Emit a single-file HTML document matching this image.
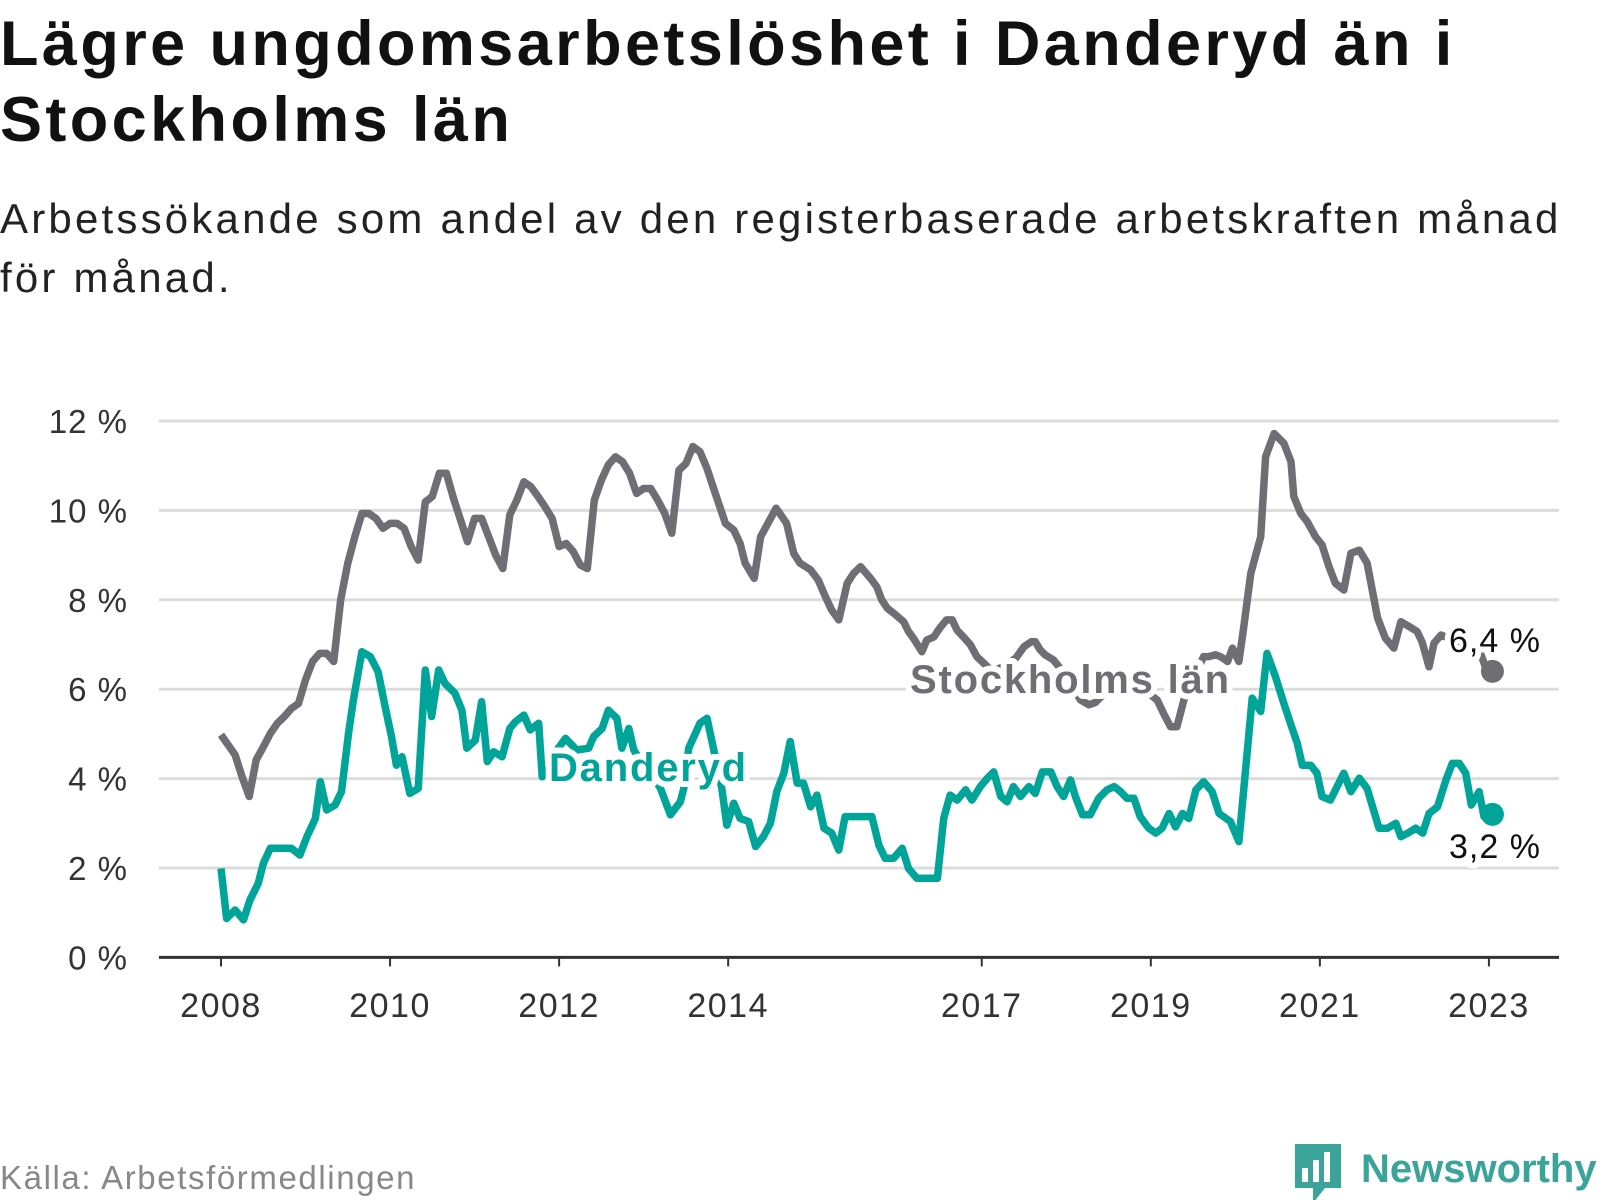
<!DOCTYPE html>
<html><head><meta charset="utf-8">
<style>
body{margin:0;background:#fff;width:1600px;height:1200px;overflow:hidden;font-family:"Liberation Sans",sans-serif;}
#title{position:absolute;left:0;top:6px;font-size:63px;font-weight:bold;line-height:76px;color:#111;margin:0;letter-spacing:3.4px;white-space:nowrap}
#subtitle{position:absolute;left:0;top:189px;font-size:42px;line-height:59px;color:#222;margin:0;letter-spacing:3.2px;white-space:nowrap}
svg{position:absolute;left:0;top:0}
</style></head><body>
<h1 id="title">Lägre ungdomsarbetslöshet i Danderyd än i<br>Stockholms län</h1>
<p id="subtitle">Arbetssökande som andel av den registerbaserade arbetskraften månad<br>för månad.</p>
<svg id="chart" width="1600" height="1200"></svg>
<script>
const yTicks=[0,2,4,6,8,10,12];
const xTickMonths=[0,24,48,72,108,132,156,180];
const xTickLabels=["2008","2010","2012","2014","2017","2019","2021","2023"];
const stoMonths=[0,2,3,4,5,6,7,8,9,10,11,12,13,14,15,16,17,18,19,20,21,22,23,24,25,26,27,28,29,30,31,32,33,34,35,36,37,38,39,40,41,42,43,44,45,46,47,48,49,50,51,52,53,54,55,56,57,58,59,60,61,62,63,64,65,66,67,68,69,70,71.6,72.8,73.7,74.4,75.7,76.6,77.5,78.8,80.3,81.3,82.2,83.7,84.8,85.8,86.7,87.7,88.9,89.8,90.8,92.2,93.1,93.8,94.6,95.5,96.9,97.6,98.3,99.5,100.2,101.2,102,103,103.8,104.5,105.4,106.4,107.3,108.5,109.5,111,112.8,114,115,115.6,116.3,117,118.2,120,122,123.2,124.1,126,128,130,132,132.9,133.8,134.8,135.7,136.7,139.5,140.2,141.2,141.9,142.9,143.6,144.5,145.2,146.2,147.6,148.3,149.5,150.9,151.9,152.3,153.3,154.2,155.4,156.3,157.3,158.2,159.4,160.4,161.6,162.7,164.2,165.3,166.5,167.5,168.7,169.8,170.5,171.5,172.2,173.2,175,177,178.8,179.5,180.5];
const stoValues=[4.98,4.53,4.04,3.60,4.42,4.71,5.01,5.24,5.39,5.57,5.68,6.21,6.62,6.80,6.80,6.62,8.0,8.82,9.41,9.93,9.93,9.82,9.60,9.71,9.71,9.60,9.19,8.89,10.19,10.31,10.83,10.83,10.27,9.79,9.30,9.82,9.82,9.41,9.0,8.70,9.90,10.23,10.64,10.53,10.31,10.08,9.82,9.19,9.26,9.08,8.78,8.70,10.23,10.68,11.02,11.20,11.09,10.83,10.38,10.49,10.49,10.23,9.93,9.49,10.90,11.05,11.43,11.31,10.94,10.46,9.71,9.56,9.26,8.82,8.48,9.41,9.67,10.05,9.71,9.04,8.82,8.67,8.44,8.07,7.77,7.55,8.37,8.59,8.74,8.48,8.29,8.0,7.81,7.70,7.51,7.29,7.14,6.84,7.10,7.17,7.36,7.55,7.55,7.32,7.17,6.99,6.73,6.55,6.4,6.5,6.69,6.95,7.06,7.06,6.88,6.77,6.65,6.3,5.76,5.65,5.7,6.0,6.2,6.1,5.87,5.76,5.46,5.16,5.16,5.76,6.73,6.73,6.77,6.73,6.62,6.92,6.62,7.40,8.59,9.41,11.2,11.72,11.50,11.09,10.31,9.93,9.75,9.41,9.23,8.74,8.37,8.22,9.04,9.11,8.82,7.59,7.14,6.92,7.51,7.40,7.29,7.06,6.50,7.03,7.21,7.1,7.0,6.8,6.5,6.4];
const danMonths=[0,0.8,2.0,3.2,4.1,5.3,6.0,7.0,10.0,11.2,12.2,13.4,14.1,15.0,16.2,17.1,18.1,18.8,20.0,21.2,22.3,23.3,24.2,24.9,25.7,26.8,28.0,29.0,29.9,30.9,31.8,33.2,34.2,34.9,36.1,37.0,37.8,38.7,39.9,41.0,41.8,43.0,43.9,45.1,45.6,46.5,47.5,48.9,50.5,52.2,52.9,54.1,55.0,56.2,56.9,57.9,58.6,60,61.5,62.4,63.8,65.2,65.7,66.4,68.0,69.0,69.9,71.1,71.8,72.8,73.7,74.9,75.9,77.0,78.0,78.9,79.9,80.8,81.8,82.7,83.7,84.6,85.6,86.7,87.7,88.6,92.4,93.4,94.3,95.5,96.7,97.6,98.8,101.7,102.6,103.5,104.5,105.7,106.6,107.8,108.8,109.7,110.7,111.6,112.5,113.5,114.7,115.6,116.6,117.8,118.7,119.6,120.6,121.3,122.3,123.4,124.6,125.8,126.8,127.7,128.6,129.6,130.5,131.7,132.7,133.6,134.6,135.5,136.5,137.4,138.4,139.5,140.7,141.7,143.3,144.5,146.4,147.6,148.5,149.7,150.9,151.9,152.8,153.5,154.7,155.6,156.3,157.5,159.4,160.4,161.6,162.7,164.4,165.6,166.8,167.5,168.5,169.6,170.6,171.5,172.7,173.9,174.8,175.8,176.7,177.5,178.6,179.3,180.5];
const danValues=[1.99,0.87,1.06,0.84,1.28,1.66,2.10,2.44,2.44,2.29,2.70,3.11,3.93,3.30,3.41,3.71,5.01,5.76,6.84,6.73,6.39,5.61,4.94,4.30,4.49,3.67,3.78,6.43,5.39,6.43,6.13,5.91,5.53,4.68,4.86,5.72,4.38,4.60,4.49,5.12,5.27,5.42,5.09,5.24,4.04,4.2,4.6,4.9,4.64,4.68,4.94,5.12,5.53,5.35,4.68,5.12,4.64,4.3,4.0,3.78,3.19,3.48,3.78,4.68,5.24,5.35,4.68,3.78,2.96,3.45,3.11,3.04,2.48,2.70,3.0,3.71,4.12,4.83,3.90,3.90,3.37,3.63,2.89,2.78,2.40,3.15,3.15,2.51,2.22,2.22,2.44,1.99,1.77,1.77,3.11,3.63,3.52,3.75,3.52,3.82,4.01,4.15,3.60,3.48,3.82,3.60,3.82,3.67,4.15,4.15,3.82,3.60,3.97,3.60,3.19,3.19,3.56,3.75,3.82,3.71,3.56,3.56,3.15,2.89,2.78,2.89,3.22,2.92,3.22,3.11,3.75,3.93,3.71,3.22,3.04,2.59,5.80,5.50,6.80,6.28,5.68,5.20,4.79,4.30,4.30,4.12,3.60,3.52,4.12,3.71,4.01,3.78,2.89,2.89,3.0,2.70,2.78,2.89,2.78,3.22,3.37,3.97,4.34,4.34,4.12,3.41,3.71,3.15,3.2];

const NS="http://www.w3.org/2000/svg";
const svg=document.getElementById('chart');
const X0=221,MW=7.044,Y0=957.4,YU=44.7;
const xS=m=>X0+m*MW, yS=v=>Y0-v*YU;
function el(t,a,p){const e=document.createElementNS(NS,t);for(const k in a)e.setAttribute(k,a[k]);(p||svg).appendChild(e);return e;}

yTicks.forEach(v=>{
  if(v>0){const g=el('line',{x1:159,x2:1559,y1:yS(v),y2:yS(v),stroke:'#dcdcdc','stroke-width':3});
  
  }
  const t=el('text',{x:128,y:yS(v)+12,'text-anchor':'end','font-size':33,'letter-spacing':1,fill:'#333','font-family':'Liberation Sans, sans-serif'});
  t.textContent=v+' %';
  
  
});
const ax=el('line',{x1:159,x2:1559,y1:Y0,y2:Y0,stroke:'#333','stroke-width':3});


xTickMonths.forEach((m,i)=>{
  const tk=el('line',{x1:xS(m),x2:xS(m),y1:Y0,y2:Y0+9,stroke:'#333','stroke-width':2});
  
  
  const t=el('text',{x:xS(m),y:1017,'text-anchor':'middle','font-size':34,'letter-spacing':1.5,fill:'#333','font-family':'Liberation Sans, sans-serif'});
  t.textContent=xTickLabels[i];
  
  
});
function line(ms,vs,color,name){
  const d=ms.map((m,i)=>(i?'L':'M')+xS(m).toFixed(1)+','+yS(vs[i]).toFixed(1)).join('');
  const p=el('path',{d:d,fill:'none',stroke:color,'stroke-width':7.5,'stroke-linejoin':'round'});
  
  
  const c=el('circle',{cx:xS(ms[ms.length-1]),cy:yS(vs[vs.length-1]),r:11.5,fill:color});
  
  
}
line(stoMonths,stoValues,'#6f6e74','stockholm-line');
line(danMonths,danValues,'#00a499','danderyd-line');
function label(txt,x,y,size,color,bold,ls,name){
  const t=el('text',{x:x,y:y,'font-size':size,'letter-spacing':ls,fill:color,'font-weight':bold?'bold':'normal',stroke:'#fff','stroke-width':12,'paint-order':'stroke','stroke-linejoin':'round','font-family':'Liberation Sans, sans-serif'});
  t.textContent=txt;
  
  
}
label('Stockholms län',910,693,40,'#6f6e74',true,1.8,'stockholm-series-label');
label('Danderyd',549,781,40,'#00a499',true,1.8,'danderyd-series-label');
label('6,4 %',1449,652,34,'#111',false,1,'stockholm-end-value');
label('3,2 %',1449,858,34,'#111',false,1,'danderyd-end-value');
const src=el('text',{x:0,y:1189,'font-size':33,'letter-spacing':1.6,fill:'#888','font-family':'Liberation Sans, sans-serif'});
src.textContent='Källa: Arbetsförmedlingen';


const lg=el('g',{});


el('path',{d:'M1295,1144h46v44h-16l-12,15v-15h-18z',fill:'#3aa39a'},lg);
el('rect',{x:1302,y:1168,width:6,height:14,fill:'#fff'},lg);
el('rect',{x:1313,y:1160,width:6,height:22,fill:'#fff'},lg);
el('rect',{x:1324,y:1152,width:6,height:30,fill:'#fff'},lg);
const lt=el('text',{x:1361,y:1182,'font-size':40,'font-weight':'bold',fill:'#3aa39a','font-family':'Liberation Sans, sans-serif'},lg);
lt.textContent='Newsworthy';
</script>
</body></html>
